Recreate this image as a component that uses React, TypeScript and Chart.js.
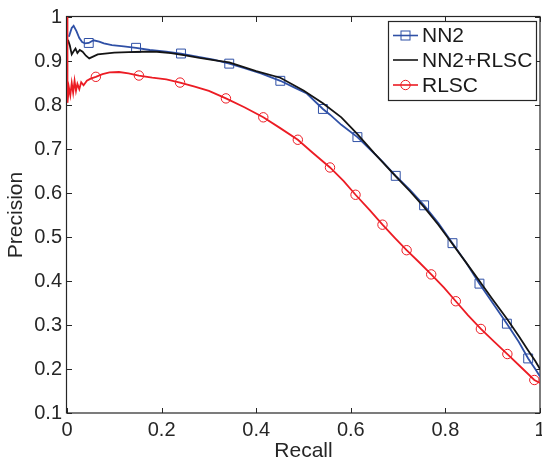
import React, { useEffect, useRef } from 'react';
import { Chart, registerables } from 'chart.js';

Chart.register(...registerables);

// ---- data ----
const seriesNames = ['NN2', 'NN2+RLSC', 'RLSC'];

const nn2Recall = [0.004, 0.010, 0.014, 0.020, 0.026, 0.032, 0.038, 0.046, 0.056, 0.068, 0.078, 0.095, 0.120, 0.146, 0.175, 0.210, 0.241, 0.275, 0.310, 0.343, 0.375, 0.410, 0.451, 0.480, 0.507, 0.541, 0.556, 0.580, 0.614, 0.640, 0.668, 0.695, 0.725, 0.755, 0.785, 0.815, 0.845, 0.872, 0.900, 0.930, 0.955, 0.975, 0.990, 1.000];
const nn2Precision = [0.955, 0.975, 0.980, 0.968, 0.952, 0.943, 0.940, 0.941, 0.947, 0.944, 0.940, 0.936, 0.933, 0.930, 0.925, 0.921, 0.917, 0.910, 0.903, 0.894, 0.884, 0.872, 0.855, 0.840, 0.826, 0.791, 0.778, 0.755, 0.727, 0.700, 0.670, 0.639, 0.607, 0.572, 0.532, 0.486, 0.440, 0.394, 0.350, 0.303, 0.262, 0.224, 0.200, 0.183];
const nn2MarkerRecall = [0.046, 0.146, 0.241, 0.343, 0.451, 0.541, 0.614, 0.695, 0.755, 0.815, 0.872, 0.930, 0.975];
const nn2MarkerPrecision = [0.941, 0.930, 0.917, 0.894, 0.855, 0.791, 0.727, 0.639, 0.572, 0.486, 0.394, 0.303, 0.224];

const comboRecall = [0.002, 0.006, 0.010, 0.014, 0.018, 0.022, 0.027, 0.033, 0.040, 0.047, 0.055, 0.065, 0.080, 0.100, 0.130, 0.160, 0.190, 0.220, 0.250, 0.280, 0.310, 0.343, 0.400, 0.451, 0.500, 0.541, 0.580, 0.612, 0.650, 0.695, 0.725, 0.755, 0.785, 0.815, 0.845, 0.872, 0.900, 0.930, 0.955, 0.975, 0.990, 1.000];
const comboPrecision = [0.948, 0.935, 0.915, 0.922, 0.928, 0.918, 0.925, 0.921, 0.912, 0.906, 0.910, 0.915, 0.917, 0.919, 0.920, 0.921, 0.921, 0.918, 0.913, 0.907, 0.902, 0.897, 0.877, 0.862, 0.833, 0.804, 0.772, 0.736, 0.690, 0.638, 0.604, 0.568, 0.528, 0.484, 0.440, 0.400, 0.358, 0.314, 0.275, 0.242, 0.218, 0.200];

const rlscRecall = [0.000, 0.001, 0.004, 0.007, 0.010, 0.013, 0.016, 0.019, 0.022, 0.026, 0.030, 0.035, 0.042, 0.050, 0.061, 0.075, 0.090, 0.110, 0.130, 0.152, 0.180, 0.210, 0.239, 0.270, 0.300, 0.336, 0.375, 0.415, 0.450, 0.488, 0.520, 0.556, 0.585, 0.610, 0.640, 0.667, 0.693, 0.718, 0.745, 0.770, 0.797, 0.822, 0.848, 0.875, 0.903, 0.931, 0.960, 0.988, 1.000];
const rlscPrecision = [1.000, 0.805, 0.840, 0.822, 0.850, 0.828, 0.855, 0.832, 0.848, 0.836, 0.852, 0.845, 0.855, 0.860, 0.864, 0.870, 0.874, 0.875, 0.872, 0.867, 0.862, 0.858, 0.851, 0.842, 0.832, 0.815, 0.795, 0.772, 0.748, 0.721, 0.691, 0.658, 0.627, 0.596, 0.561, 0.528, 0.498, 0.470, 0.442, 0.415, 0.385, 0.354, 0.322, 0.291, 0.262, 0.234, 0.204, 0.175, 0.168];
const rlscMarkerRecall = [0.061, 0.152, 0.239, 0.336, 0.415, 0.488, 0.556, 0.610, 0.667, 0.718, 0.770, 0.822, 0.875, 0.931, 0.988];
const rlscMarkerPrecision = [0.864, 0.867, 0.851, 0.815, 0.772, 0.721, 0.658, 0.596, 0.528, 0.470, 0.415, 0.354, 0.291, 0.234, 0.175];

const xTickValues = [0, 0.2, 0.4, 0.6, 0.8, 1];
const xTickLabels = ['0', '0.2', '0.4', '0.6', '0.8', '1'];
const yTickValues = [0.1, 0.2, 0.3, 0.4, 0.5, 0.6, 0.7, 0.8, 0.9, 1];
const yTickLabels = ['0.1', '0.2', '0.3', '0.4', '0.5', '0.6', '0.7', '0.8', '0.9', '1'];

// ---- styles ----
const FONT = "'Liberation Sans', Arial, Helvetica, sans-serif";
const BLUE = '#2f50a6';
const BLACK = '#141414';
const RED = '#ec1c24';
const AXIS = '#262626';

const pts = (xs: number[], ys: number[]) => xs.map((x, i) => ({ x, y: ys[i] }));

const frameTicksPlugin = {
  id: 'frameTicks',
  beforeDatasetsDraw(chart: any) {
    const { ctx, chartArea } = chart;
    const { left, right, top, bottom } = chartArea;
    const xs = chart.scales.x;
    const ys = chart.scales.y;
    const tl = 5;
    ctx.save();
    ctx.strokeStyle = AXIS;
    ctx.lineWidth = 1;
    ctx.beginPath();
    xTickValues.forEach((v) => {
      const px = Math.round(xs.getPixelForValue(v)) + 0.5;
      ctx.moveTo(px, bottom);
      ctx.lineTo(px, bottom - tl);
      ctx.moveTo(px, top);
      ctx.lineTo(px, top + tl);
    });
    yTickValues.forEach((v) => {
      const py = Math.round(ys.getPixelForValue(v)) + 0.5;
      ctx.moveTo(left, py);
      ctx.lineTo(left + tl, py);
      ctx.moveTo(right, py);
      ctx.lineTo(right - tl, py);
    });
    ctx.stroke();
    ctx.lineWidth = 1.2;
    ctx.strokeRect(Math.round(left) - 0.5, Math.round(top) - 0.5, Math.round(right - left) + 0.5, Math.round(bottom - top) + 0.5);
    ctx.restore();
  },
};

const legendPlugin = {
  id: 'matlabLegend',
  afterDraw(chart: any) {
    const { ctx, chartArea } = chart;
    ctx.save();
    ctx.font = `21px ${FONT}`;
    const widths = seriesNames.map((n) => ctx.measureText(n).width);
    const maxW = Math.max(...widths);
    const boxW = Math.round(34 + maxW + 4);
    const boxH = 79;
    const boxRight = Math.round(chartArea.right - 4);
    const boxTop = Math.round(chartArea.top + 4);
    const boxLeft = boxRight - boxW;
    ctx.fillStyle = '#ffffff';
    ctx.fillRect(boxLeft, boxTop, boxW, boxH);
    ctx.strokeStyle = AXIS;
    ctx.lineWidth = 1.2;
    ctx.strokeRect(boxLeft + 0.5, boxTop + 0.5, boxW, boxH);
    const colors = [BLUE, BLACK, RED];
    const markers = ['rect', null, 'circle'];
    const rowY = [boxTop + 14.5, boxTop + 39, boxTop + 64];
    seriesNames.forEach((name, i) => {
      const y = rowY[i];
      const x0 = boxLeft + 5;
      const x1 = boxLeft + 30;
      ctx.strokeStyle = colors[i];
      ctx.lineWidth = 1.6;
      ctx.beginPath();
      ctx.moveTo(x0, y);
      ctx.lineTo(x1, y);
      ctx.stroke();
      const cx = (x0 + x1) / 2;
      ctx.lineWidth = 1;
      if (markers[i] === 'rect') {
        ctx.strokeRect(cx - 4.5, y - 4.5, 9, 9);
      } else if (markers[i] === 'circle') {
        ctx.beginPath();
        ctx.arc(cx, y, 4.7, 0, Math.PI * 2);
        ctx.stroke();
      }
      ctx.fillStyle = '#1a1a1a';
      ctx.textAlign = 'left';
      ctx.textBaseline = 'middle';
      ctx.fillText(name, boxLeft + 34, y + 1);
    });
    ctx.restore();
  },
};

export default function App() {
  const canvasRef = useRef<HTMLCanvasElement | null>(null);

  useEffect(() => {
    document.body.style.margin = '0';
    const canvas = canvasRef.current;
    if (!canvas) return;
    const chart = new Chart(canvas, {
      type: 'scatter',
      data: {
        datasets: [
          {
            label: 'RLSC markers',
            data: pts(rlscMarkerRecall, rlscMarkerPrecision),
            showLine: false,
            pointStyle: 'circle',
            pointRadius: 4.7,
            pointBorderWidth: 1,
            pointBorderColor: RED,
            pointBackgroundColor: 'rgba(0,0,0,0)',
          },
          {
            label: seriesNames[2],
            data: pts(rlscRecall, rlscPrecision),
            showLine: true,
            borderColor: RED,
            borderWidth: 1.8,
            pointRadius: 0,
          },
          {
            label: seriesNames[1],
            data: pts(comboRecall, comboPrecision),
            showLine: true,
            borderColor: BLACK,
            borderWidth: 1.8,
            pointRadius: 0,
          },
          {
            label: 'NN2 markers',
            data: pts(nn2MarkerRecall, nn2MarkerPrecision),
            showLine: false,
            pointStyle: 'rect',
            pointRadius: 6.3,
            pointBorderWidth: 1,
            pointBorderColor: BLUE,
            pointBackgroundColor: 'rgba(0,0,0,0)',
          },
          {
            label: seriesNames[0],
            data: pts(nn2Recall, nn2Precision),
            showLine: true,
            borderColor: BLUE,
            borderWidth: 1.8,
            pointRadius: 0,
          },
        ],
      },
      options: {
        animation: false,
        responsive: false,
        events: [],
        layout: { padding: { left: 0, top: 15, right: 20, bottom: 0 } },
        plugins: {
          legend: { display: false },
          tooltip: { enabled: false },
        },
        scales: {
          x: {
            type: 'linear',
            min: 0,
            max: 1,
            afterBuildTicks: (scale: any) => {
              scale.ticks = xTickValues.map((v) => ({ value: v }));
            },
            afterFit: (scale: any) => {
              scale.height = 47;
            },
            grid: { display: false, drawTicks: false },
            border: { display: false },
            ticks: {
              padding: 5,
              color: AXIS,
              font: { family: FONT, size: 20 },
              maxRotation: 0,
              callback: (v: any) => {
                const i = xTickValues.findIndex((t) => Math.abs(t - v) < 1e-9);
                return i >= 0 ? xTickLabels[i] : '';
              },
            },
            title: {
              display: true,
              text: 'Recall',
              color: AXIS,
              font: { family: FONT, size: 21, lineHeight: 0.81 },
              padding: 0,
            },
          },
          y: {
            type: 'linear',
            min: 0.1,
            max: 1,
            afterBuildTicks: (scale: any) => {
              scale.ticks = yTickValues.map((v) => ({ value: v }));
            },
            afterFit: (scale: any) => {
              scale.width = 67;
            },
            grid: { display: false, drawTicks: false },
            border: { display: false },
            ticks: {
              padding: 5,
              color: AXIS,
              font: { family: FONT, size: 20 },
              callback: (v: any) => {
                const i = yTickValues.findIndex((t) => Math.abs(t - v) < 1e-9);
                return i >= 0 ? yTickLabels[i] : '';
              },
            },
            title: {
              display: true,
              text: 'Precision',
              color: AXIS,
              font: { family: FONT, size: 21, lineHeight: 1.2 },
              padding: { top: 4, bottom: 0 },
            },
          },
        },
      },
      plugins: [frameTicksPlugin, legendPlugin],
    });
    return () => chart.destroy();
  }, []);

  return (
    <div style={{ position: 'absolute', left: 0, top: 0, width: 542, height: 460, overflow: 'hidden', background: '#fff' }}>
      <canvas ref={canvasRef} width={560} height={460} style={{ width: 560, height: 460, display: 'block' }} />
    </div>
  );
}
